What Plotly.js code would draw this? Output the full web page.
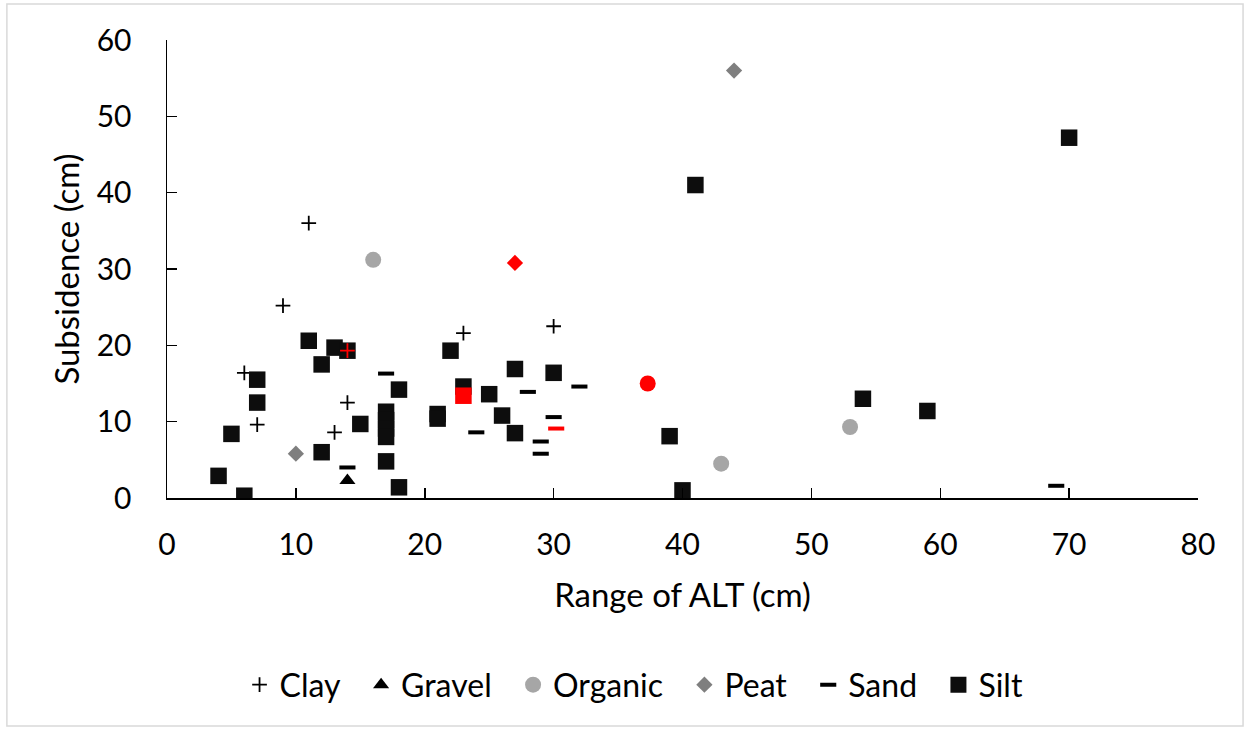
<!DOCTYPE html>
<html>
<head>
<meta charset="utf-8">
<script src="https://cdn.plot.ly/plotly-3.0.1.min.js"></script>
<style>
  html, body { margin: 0; padding: 0; background: #ffffff; }
  #chart { width: 1247px; height: 729px; }
</style>
</head>
<body>
<div id="chart"></div>
<script>
// Range of active-layer thickness (cm) vs. subsidence (cm), grouped by soil type
const clayX = [11, 9, 6, 7, 14, 13, 23, 30];
const clayY = [36, 25.2, 16.4, 9.6, 12.5, 8.6, 21.6, 22.5];

const gravelX = [14];
const gravelY = [2.3];

const organicX = [16, 43, 53];
const organicY = [31.2, 4.5, 9.3];

const peatX = [10, 44];
const peatY = [5.8, 56];

const sandX = [17, 14, 28, 32, 24, 30, 29, 29, 69];
const sandY = [16.3, 4.0, 13.9, 14.6, 8.6, 10.6, 7.4, 5.8, 1.6];

const siltX = [11, 13, 14, 12, 7, 7, 5, 18, 17, 17, 17, 17, 17, 15, 12, 4, 6, 18,
               21, 21, 22, 27, 30, 23, 25, 26, 27, 39, 40, 41, 70, 54, 59];
const siltY = [20.6, 19.7, 19.3, 17.5, 15.5, 12.5, 8.4, 14.2, 11.3, 10.2, 9.1, 8.0, 4.8, 9.7, 6.0, 2.9, 0.3, 1.4,
               11.0, 10.4, 19.3, 16.9, 16.4, 14.6, 13.6, 10.8, 8.5, 8.1, 1.0, 41, 47.2, 13.0, 11.4];

// Highlighted sites (one per soil type)
const clayHiX = [14];      const clayHiY = [19.3];
const organicHiX = [37.3]; const organicHiY = [15.0];
const peatHiX = [27];      const peatHiY = [30.8];
const sandHiX = [30.2];    const sandHiY = [9.1];
const siltHiX = [23];      const siltHiY = [13.4];

const FONT = 'Lato, "Open Sans", sans-serif';
const HI = '#ff0000';
const GAP = '\u00a0\u00a0'; // extra room between legend entries

const styles = {
  clay:    { symbol: 'cross-thin-open', size: 10.5, lw: 1.8, color: '#000000' },
  gravel:  { symbol: 'triangle-up', size: 14, lw: 0, color: '#000000' },
  organic: { symbol: 'circle', size: 16, lw: 0, color: '#a6a6a6' },
  peat:    { symbol: 'diamond', size: 12.5, lw: 0, color: '#7f7f7f' },
  sand:    { symbol: 'line-ew-open', size: 11.5, lw: 4, color: '#000000' },
  silt:    { symbol: 'square', size: 16.5, lw: 0, color: '#0d0d0d' }
};

function series(name, x, y, st, color, showlegend) {
  return {
    type: 'scatter', mode: 'markers', name: name, x: x, y: y,
    showlegend: showlegend, hoverinfo: 'skip',
    marker: {
      symbol: st.symbol, size: st.size, color: color,
      line: { width: st.lw, color: color }
    }
  };
}

const data = [
  series('Clay' + GAP, clayX, clayY, styles.clay, styles.clay.color, true),
  series('Gravel' + GAP, gravelX, gravelY, styles.gravel, styles.gravel.color, true),
  series('Organic' + GAP, organicX, organicY, styles.organic, styles.organic.color, true),
  series('Peat' + GAP, peatX, peatY, styles.peat, styles.peat.color, true),
  series('Sand' + GAP, sandX, sandY, styles.sand, styles.sand.color, true),
  series('Silt', siltX, siltY, styles.silt, styles.silt.color, true),
  series('Clay', clayHiX, clayHiY, styles.clay, HI, false),
  series('Organic', organicHiX, organicHiY, styles.organic, HI, false),
  series('Peat', peatHiX, peatHiY, styles.peat, HI, false),
  series('Sand', sandHiX, sandHiY, styles.sand, HI, false),
  series('Silt', siltHiX, siltHiY, styles.silt, HI, false)
];

const axisCommon = {
  showgrid: false, zeroline: false,
  showline: true, linecolor: '#000000', linewidth: 1.5,
  ticks: 'inside', ticklen: 10, tickwidth: 1.5, tickcolor: '#000000',
  tickfont: { family: FONT, size: 30, color: '#000000' },
  fixedrange: true
};

const layout = {
  width: 1247, height: 729,
  paper_bgcolor: '#ffffff', plot_bgcolor: '#ffffff',
  font: { family: FONT, size: 30, color: '#000000' },
  margin: { l: 167, r: 49, t: 40, b: 231 },
  xaxis: Object.assign({}, axisCommon, {
    range: [0, 80], dtick: 10, tick0: 0,
    ticklabelstandoff: 19,
    title: { text: 'Range of ALT (cm)', font: { family: FONT, size: 33, color: '#000000' }, standoff: 24 },
    automargin: true
  }),
  yaxis: Object.assign({}, axisCommon, {
    range: [0, 60], dtick: 10, tick0: 0,
    ticklabelstandoff: 28,
    title: { text: 'Subsidence (cm)', font: { family: FONT, size: 33, color: '#000000' }, standoff: 7 },
    automargin: true
  }),
  legend: {
    orientation: 'h', x: 0.453, xanchor: 'center', y: -0.408, yanchor: 'middle',
    font: { family: FONT, size: 32, color: '#000000' },
    bgcolor: 'rgba(0,0,0,0)', traceorder: 'normal'
  },
  shapes: [{
    type: 'rect', xref: 'paper', yref: 'paper',
    x0: -0.1553, x1: 1.0437, y0: -0.4978, y1: 1.0786,
    line: { color: '#d9d9d9', width: 1.5 }, fillcolor: 'rgba(0,0,0,0)', layer: 'below'
  }],
  showlegend: true
};

Plotly.newPlot('chart', data, layout, { staticPlot: true, displayModeBar: false });
</script>
</body>
</html>
